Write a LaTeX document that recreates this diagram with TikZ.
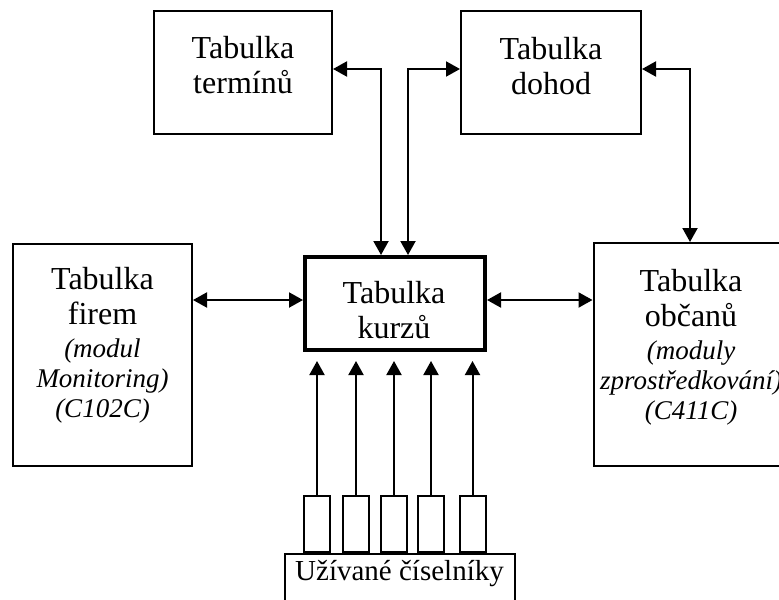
\documentclass[tikz,border=0pt]{standalone}
\usepackage{fontspec}
\setmainfont{Liberation Serif}
\usetikzlibrary{arrows.meta}
\newcommand{\modfont}{\fontsize{13.5}{15}\selectfont\itshape}

\begin{document}
\begin{tikzpicture}[x=0.5pt, y=-0.5pt,
    table style/.style={draw=black, line width=1pt, inner sep=0pt},
    main style/.style={draw=black, line width=2.2pt, inner sep=0pt},
    label style/.style={inner sep=0pt, align=center, anchor=north, font=\fontsize{16}{17.5}\selectfont},
    link style/.style={line width=1pt, {Triangle[length=7pt,width=7.5pt]}-{Triangle[length=7pt,width=7.5pt]}},
    feed style/.style={line width=1pt, -{Triangle[length=7pt,width=7.5pt]}, shorten >=4.5pt},]
    \useasboundingbox (0,0) rectangle (779,599);
    \clip (0,0) rectangle (779,599);

    \node[table style, minimum width=89pt, minimum height=61.5pt] (term) at (243,72.5) {};
    \node[table style, minimum width=90pt, minimum height=61.5pt] (dohod) at (551,72.5) {};
    \node[table style, minimum width=89.5pt, minimum height=111pt] (firem) at (102.5,355) {};
    \node[main style, minimum width=89.8pt, minimum height=46.3pt] (kurzu) at (395,303.5) {};
    \node[table style, minimum width=103pt, minimum height=111.5pt] (obcanu) at (696.5,354.5) {};
    \node[table style, minimum width=115pt, minimum height=33pt] (uziv) at (399.5,586.5) {};

    \node[label style] (tTerm) at (243,36) {Tabulka\\termínů};
    \node[label style] (tDohod) at (551,37) {Tabulka\\dohod};
    \node[label style] (tKurzu) at (394,281) {Tabulka\\kurzů};
    \node[label style] (tFirem) at (102.5,267) {Tabulka\\firem\\[-1pt]{\modfont (modul}\\[-2.5pt]{\modfont Monitoring)}\\[-2.5pt]{\modfont (C102C)}};
    \node[label style] (tObcanu) at (691,269) {Tabulka\\občanů\\[-1pt]{\modfont (moduly}\\[-2.5pt]{\modfont zprostředkování)}\\[-2.5pt]{\modfont (C411C)}};
    \node[label style, anchor=base, font=\fontsize{14.5}{17}\selectfont] (tUziv) at (399.5,580) {Užívané číselníky};

    \node[table style, minimum width=13pt, minimum height=28pt] (c1) at (317,523.5) {};
    \node[table style, minimum width=13pt, minimum height=28pt] (c2) at (356,523.5) {};
    \node[table style, minimum width=13pt, minimum height=28pt] (c3) at (394,523.5) {};
    \node[table style, minimum width=13pt, minimum height=28pt] (c4) at (431,523.5) {};
    \node[table style, minimum width=13pt, minimum height=28pt] (c5) at (472.5,523.5) {};

    \coordinate (bendT) at (381,69);
    \coordinate (bendD) at (408,69);
    \coordinate (bendO) at (690,69);
    \coordinate (midL) at (0,300);

    \draw[style=link style] (term.east |- bendT) -- (bendT) -- (bendT |- kurzu.north);
    \draw[style=link style] (bendD |- kurzu.north) -- (bendD) -- (dohod.west |- bendD);
    \draw[style=link style] (dohod.east |- bendO) -- (bendO) -- (bendO |- obcanu.north);
    \draw[style=link style] (firem.east |- midL) -- (kurzu.west |- midL);
    \draw[style=link style] (kurzu.east |- midL) -- (obcanu.west |- midL);

    \draw[style=feed style] (c1.north) -- (c1.north |- kurzu.south);
    \draw[style=feed style] (c2.north) -- (c2.north |- kurzu.south);
    \draw[style=feed style] (c3.north) -- (c3.north |- kurzu.south);
    \draw[style=feed style] (c4.north) -- (c4.north |- kurzu.south);
    \draw[style=feed style] (c5.north) -- (c5.north |- kurzu.south);

\end{tikzpicture}
\end{document}
